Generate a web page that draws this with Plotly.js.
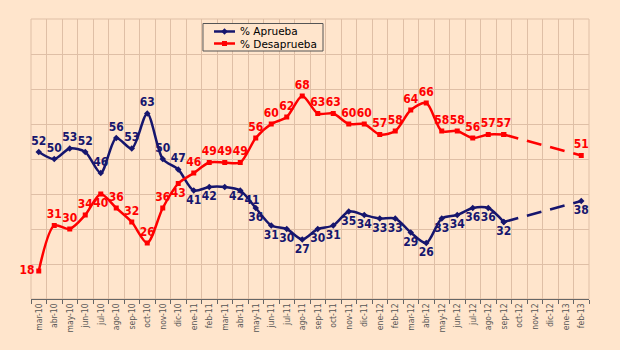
<!DOCTYPE html>
<html>
<head>
<meta charset="utf-8">
<script src="https://cdn.plot.ly/plotly-3.0.1.min.js"></script>
<style>html,body{margin:0;padding:0;background:#FFE5CC;}#chart{width:620px;height:350px;}</style>
</head>
<body>
<div id="chart"></div>
<script>
const months = ["mar-10","abr-10","may-10","jun-10","jul-10","ago-10","sep-10","oct-10","nov-10","dic-10",
  "ene-11","feb-11","mar-11","abr-11","may-11","jun-11","jul-11","ago-11","sep-11","oct-11","nov-11","dic-11",
  "ene-12","feb-12","mar-12","abr-12","may-12","jun-12","jul-12","ago-12","sep-12","oct-12","nov-12","dic-12",
  "ene-13","feb-13"];
const aprueba = [52,50,53,52,46,56,53,63,50,47,41,42,42,41,36,31,30,27,30,31,35,34,33,33,29,26,33,34,36,36,32,null,null,null,null,38];
const desaprueba = [18,31,30,34,40,36,32,26,36,43,46,49,49,49,56,60,62,68,63,63,60,60,57,58,64,66,58,58,56,57,57,null,null,null,null,51];
const seriesNames = ["% Aprueba", "% Desaprueba"];
const lastSurvey = 30;   // sep-12
const projection = 35;   // feb-13

const apruebaPos = aprueba.map((v, i) => {
  if (i <= 9) return "top center";
  if (i === 12 || i === 13) return "bottom right";
  return "bottom center";
});
const desaPos = desaprueba.map((v, i) => {
  if (i === 0) return "middle left";
  if (i === 4 || i === 9) return "bottom center";
  return "top center";
});

const NAVY = "#16166e", RED = "#ff0000";
const labelFont = (c) => ({family: "DejaVu Sans Condensed, DejaVu Sans", size: 12, color: c, weight: "bold"});

function solid(vals, name, color, sym, pos) {
  const xs = months.slice(0, lastSurvey + 1);
  const ys = vals.slice(0, lastSurvey + 1);
  return {
    x: xs, y: ys, name: name, type: "scatter", mode: "lines+markers+text", showlegend: false,
    line: {color: color, width: 2.5, shape: "spline", smoothing: 0.8},
    marker: {color: color, size: 5, symbol: sym},
    text: ys.map(String), textposition: pos.slice(0, lastSurvey + 1),
    textfont: labelFont(color), cliponaxis: false
  };
}
function dashed(vals, color, sym, pos) {
  return {
    x: [months[lastSurvey], months[projection]],
    y: [vals[lastSurvey], vals[projection]],
    type: "scatter", mode: "lines+markers+text", showlegend: false,
    line: {color: color, width: 2.5, dash: "15px,9px"},
    marker: {color: color, size: 5, symbol: sym},
    text: ["", String(vals[projection])], textposition: ["top center", pos],
    textfont: labelFont(color), cliponaxis: false
  };
}

const data = [
  solid(aprueba, seriesNames[0], NAVY, "diamond", apruebaPos),
  solid(desaprueba, seriesNames[1], RED, "square", desaPos),
  dashed(aprueba, NAVY, "diamond", "bottom center"),
  dashed(desaprueba, RED, "square", "top center")
];

// compact legend box (decoration, paper coordinates)
const LG = {x0: 0.3082, x1: 0.5233, y0: 0.8857, y1: 0.9839, lx0: 0.3280, lx1: 0.3656, mx: 0.3468, tx: 0.371, rows: [0.9554, 0.9125]};
const legendColors = [NAVY, RED];
const GRID = "#dfbfa6";
const shapes = [
  {type: "rect", xref: "paper", yref: "paper", x0: 0, x1: 1, y0: 0, y1: 1,
   line: {color: GRID, width: 1}, fillcolor: "rgba(0,0,0,0)", layer: "below"},
  {type: "rect", xref: "paper", yref: "paper", x0: LG.x0, x1: LG.x1, y0: LG.y0, y1: LG.y1,
   line: {color: "#555555", width: 1}, fillcolor: "#FFE5CC", layer: "above"}
];
const annotations = [];
seriesNames.forEach((nm, k) => {
  const yy = LG.rows[k];
  shapes.push({type: "line", xref: "paper", yref: "paper", x0: LG.lx0, x1: LG.lx1, y0: yy, y1: yy,
    line: {color: legendColors[k], width: 2.5}, layer: "above"});
  shapes.push(k === 0
    ? {type: "path", xref: "paper", yref: "paper", xsizemode: "pixel", ysizemode: "pixel",
       xanchor: LG.mx, yanchor: yy, path: "M0,-3.2L3.2,0L0,3.2L-3.2,0Z",
       fillcolor: legendColors[k], line: {color: legendColors[k], width: 0}, layer: "above"}
    : {type: "rect", xref: "paper", yref: "paper", xsizemode: "pixel", ysizemode: "pixel",
       xanchor: LG.mx, yanchor: yy, x0: -2.5, x1: 2.5, y0: -2.5, y1: 2.5,
       fillcolor: legendColors[k], line: {color: legendColors[k], width: 0}, layer: "above"});
  annotations.push({xref: "paper", yref: "paper", x: LG.tx, y: yy, xanchor: "left", yanchor: "middle",
    text: nm, showarrow: false, font: {family: "DejaVu Sans", size: 10.5, color: "#000"}});
});

const layout = {
  width: 620, height: 350,
  margin: {l: 31, r: 31, t: 19, b: 51},
  paper_bgcolor: "#FFE5CC", plot_bgcolor: "#FFE5CC",
  showlegend: false,
  xaxis: {type: "category", categoryorder: "array", categoryarray: months,
    range: [-0.5, months.length - 0.5], tickson: "boundaries",
    showgrid: true, gridcolor: GRID, gridwidth: 1,
    ticks: "outside", ticklen: 4, tickcolor: "#666", tickangle: -90,
    tickfont: {family: "DejaVu Sans Condensed, DejaVu Sans", size: 8.5, color: "#555"},
    showline: true, linecolor: "#666", linewidth: 1, mirror: false, zeroline: false, fixedrange: true},
  yaxis: {range: [10, 90], dtick: 10, tick0: 10, showticklabels: false, ticks: "",
    showgrid: true, gridcolor: GRID, gridwidth: 1, zeroline: false, showline: false, fixedrange: true},
  shapes: shapes,
  annotations: annotations
};

Plotly.newPlot("chart", data, layout, {staticPlot: true, displayModeBar: false});
</script>
</body>
</html>
